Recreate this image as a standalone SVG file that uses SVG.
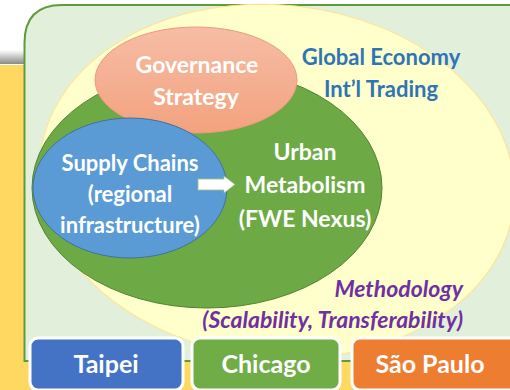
<svg xmlns="http://www.w3.org/2000/svg" width="510" height="390" viewBox="0 0 510 390">
<defs>
<linearGradient id="shadow" x1="0" y1="0" x2="0" y2="1">
<stop offset="0" stop-color="#ffffff"/>
<stop offset="1" stop-color="#8a8a8a"/>
</linearGradient>
<linearGradient id="salmon" x1="0" y1="0" x2="0" y2="1">
<stop offset="0" stop-color="#F6BDA6"/>
<stop offset="1" stop-color="#F3A27E"/>
</linearGradient>
<style>
text{font-family:Lato,"Open Sans","Liberation Sans",sans-serif;font-weight:bold;text-anchor:middle}
.w{fill:#ffffff;font-size:22px}
.blue{fill:#2E75B6;font-size:22px}
.purple{fill:#7030A0;font-size:23px;font-style:italic;text-anchor:end}
.btn{stroke:#ffffff;stroke-width:3}
.bt{fill:#ffffff;font-size:25px}
</style>
</defs>
<rect x="0" y="0" width="510" height="390" fill="#ffffff"/>
<rect x="0" y="50" width="30" height="14" fill="url(#shadow)"/>
<rect x="0" y="65" width="510" height="325" fill="#FFD862"/>
<g id="frame">
<path d="M24.5,361 V43 Q24.5,5 62,5 H512 V361 Z" fill="#E2EFDA" stroke="#5E9B3B" stroke-width="2"/>
</g>
<g id="global-economy">
<ellipse cx="277" cy="181" rx="238" ry="176" transform="rotate(6 277 181)" fill="#FFFFCC" stroke="#FFE38F" stroke-width="1"/>
<text class="blue" x="381" y="65">Global Economy</text>
<text class="blue" x="381" y="97">Int’l Trading</text>
</g>
<g id="urban-metabolism">
<ellipse cx="207" cy="188" rx="175" ry="120" fill="#6DAA45" stroke="#548235" stroke-width="1"/>
<text class="w" x="305" y="160" style="font-size:23px">Urban</text>
<text class="w" x="305" y="193" style="font-size:23px">Metabolism</text>
<text class="w" x="305" y="227" style="font-size:23px">(FWE Nexus)</text>
</g>
<g id="governance">
<ellipse cx="196" cy="80" rx="101" ry="53" fill="url(#salmon)" stroke="#EE9A78" stroke-width="1"/>
<text class="w" x="197" y="73" style="font-size:23px">Governance</text>
<text class="w" x="196" y="105" style="font-size:23px">Strategy</text>
</g>
<g id="supply-chains">
<ellipse cx="130" cy="188" rx="97" ry="70" fill="#5B9BD5" stroke="#41719C" stroke-width="1"/>
<text class="w" x="130" y="171">Supply Chains</text>
<text class="w" x="130" y="202">(regional</text>
<text class="w" x="130" y="233">infrastructure)</text>
</g>
<g id="connectors">
<path d="M198,179 H224 V176 L235,184.5 L224,193 V190 H198 Z" fill="#ffffff" stroke="#9DC383" stroke-width="0.8"/>
</g>
<g id="methodology">
<text class="purple" x="463" y="297">Methodology</text>
<text class="purple" x="463" y="328">(Scalability, Transferability)</text>
</g>
<g id="taipei">
<rect class="btn" x="30" y="338" width="153" height="52" rx="8" fill="#4472C4"/>
<text class="bt" x="106" y="373">Taipei</text>
</g>
<g id="chicago">
<rect class="btn" x="192" y="338" width="148" height="52" rx="8" fill="#70AD47"/>
<text class="bt" x="266" y="373">Chicago</text>
</g>
<g id="sao-paulo">
<rect class="btn" x="352" y="338" width="165" height="52" rx="8" fill="#ED7D31"/>
<text class="bt" x="430" y="373">São Paulo</text>
</g>
</svg>
